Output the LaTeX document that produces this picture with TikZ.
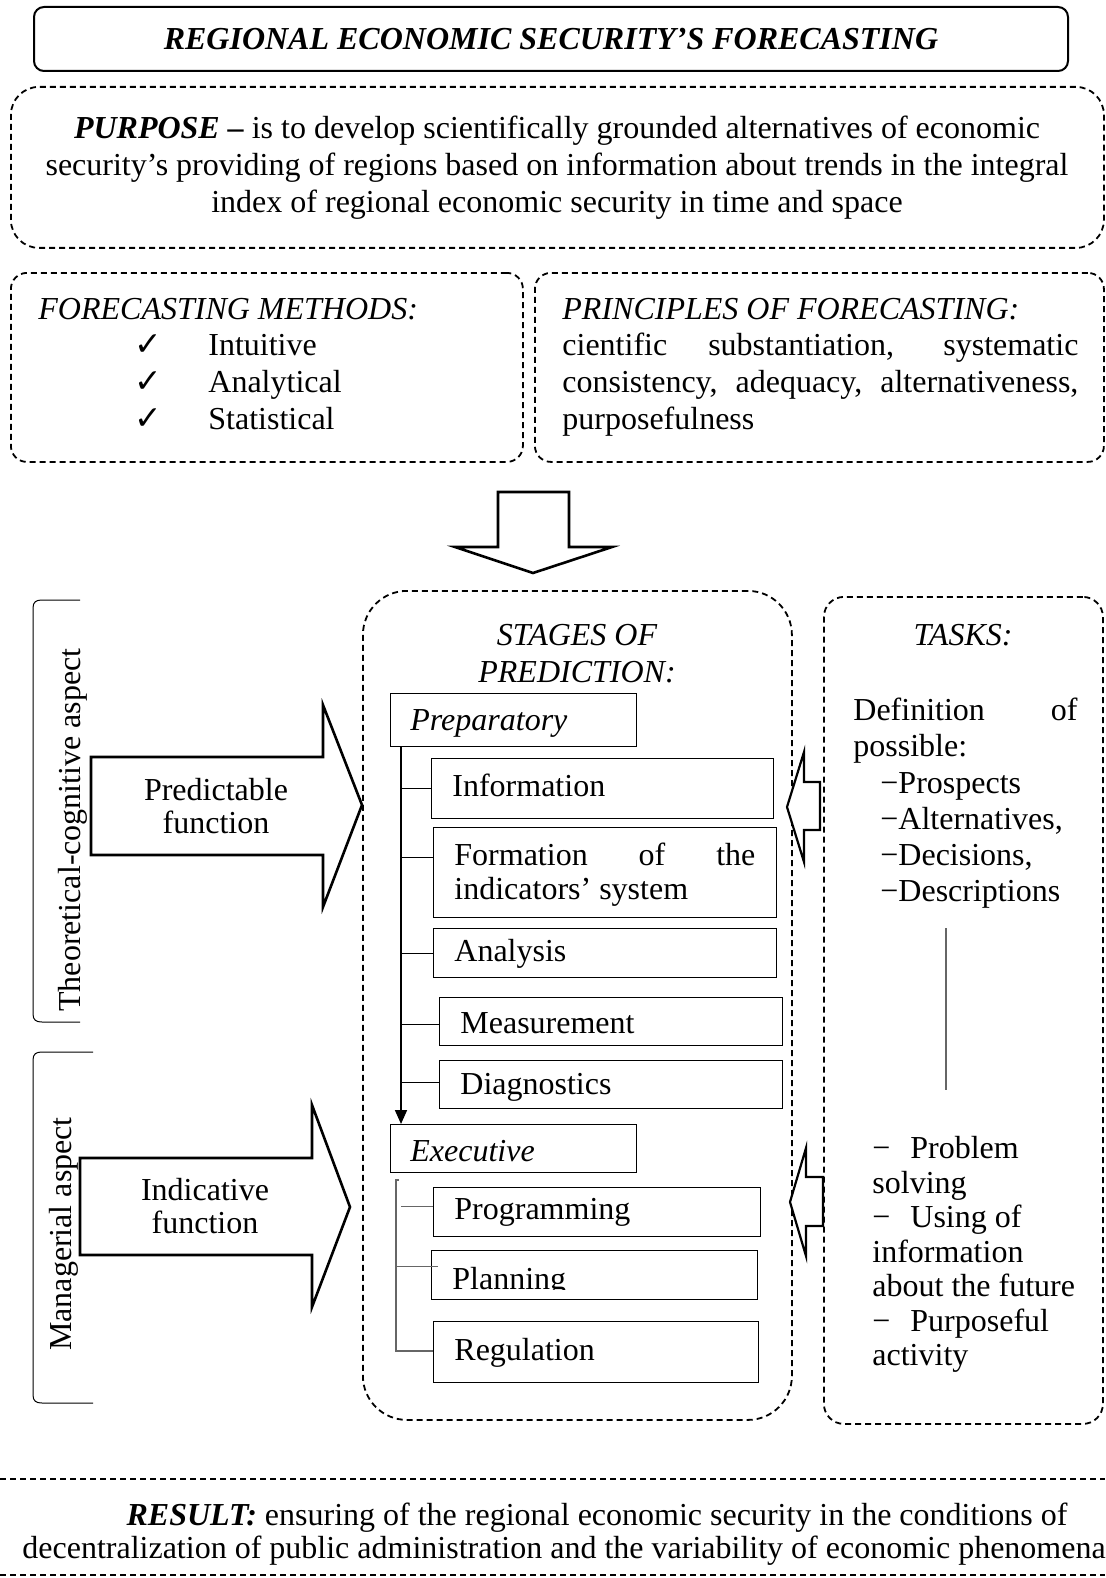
\documentclass[tikz,border=0pt]{standalone}
\usepackage{fontspec}
\setmainfont{Liberation Serif}
\newfontfamily\dvfont{DejaVu Sans}
\usepackage{graphicx}
\usetikzlibrary{arrows.meta}
\begin{document}
\begin{tikzpicture}[x=0.5pt,y=-0.5pt,
  font=\fontsize{16pt}{18.5pt}\selectfont,
  dbox/.style={draw, dash pattern=on 3pt off 2pt, line width=0.9pt, anchor=north west, inner sep=0pt},
  sbox/.style={draw, line width=0.55pt, anchor=north west, inner sep=0pt},
  txt/.style={anchor=base west, inner sep=0pt},
  ctxt/.style={anchor=base, inner sep=0pt},
  bigarrow/.style={draw, line width=1.3pt, line join=miter, fill=white},
  dline/.style={dash pattern=on 3pt off 2pt, line width=0.9pt},
  trunk/.style={line width=0.85pt},
  thin/.style={line width=0.5pt},
  grayline/.style={line width=0.6pt, draw=black!60},
  chk/.style={anchor=base west, inner sep=0pt, font=\dvfont\fontsize{16.5pt}{18pt}\selectfont}
]
\useasboundingbox (0,0) rectangle (1105,1578);

% ---------- title ----------
\node[draw, line width=1pt, rounded corners=5pt, anchor=north west, inner sep=0pt,
      minimum width=517pt, minimum height=32pt] (title) at (33,6)
      {\bfseries\itshape REGIONAL ECONOMIC SECURITY’S FORECASTING};

% ---------- purpose ----------
\node[dbox, rounded corners=14pt, minimum width=546.5pt, minimum height=80.5pt] (purpose) at (10,86) {};
\node[ctxt] (p1) at (557,139) {{\bfseries\itshape PURPOSE –} is to develop scientifically grounded alternatives of economic};
\node[ctxt] (p2) at (557,176) {security’s providing of regions based on information about trends in the integral};
\node[ctxt] (p3) at (557,213) {index of regional economic security in time and space};

% ---------- methods ----------
\node[dbox, rounded corners=8pt, minimum width=256pt, minimum height=94.5pt] (methods) at (10,272) {};
\node[txt] (mh) at (38,319) {\itshape FORECASTING METHODS:};
\node[chk] (c1) at (134,355) {✓};
\node[chk] (c2) at (134,392) {✓};
\node[chk] (c3) at (134,429) {✓};
\node[txt] (m1) at (208,355) {Intuitive};
\node[txt] (m2) at (208,392) {Analytical};
\node[txt] (m3) at (208,429) {Statistical};

% ---------- principles ----------
\node[dbox, rounded corners=8pt, minimum width=284.5pt, minimum height=94.5pt] (principles) at (534,272) {};
\node[txt] (ph) at (562,319) {\itshape PRINCIPLES OF FORECASTING:};
\node[txt] (pr1) at (562,355) {\makebox[258pt][s]{cientific substantiation, systematic}};
\node[txt] (pr2) at (562,392) {\makebox[258pt][s]{consistency, adequacy, alternativeness,}};
\node[txt] (pr3) at (562,429) {purposefulness};

% ---------- down arrow ----------
\draw[bigarrow] (498,492) -- (569,492) -- (569,547) -- (612,547) -- (533,573)
      -- (455,547) -- (498,547) -- cycle;

% ---------- left brackets ----------
\draw[thin] (80,600) -- (42,600) .. controls (36,600) and (33,602) .. (33,608)
      -- (33,1014) .. controls (33,1020) and (36,1022) .. (42,1022) -- (80,1022);
\node[anchor=base, inner sep=0pt, rotate=90] (theo) at (80,830) {Theoretical-cognitive aspect};
\draw[thin] (93,1052) -- (42,1052) .. controls (36,1052) and (33,1054) .. (33,1060)
      -- (33,1395) .. controls (33,1401) and (36,1403) .. (42,1403) -- (93,1403);
\node[anchor=base, inner sep=0pt, rotate=90] (mana) at (71,1234) {Managerial aspect};

% ---------- big left arrows ----------
\draw[bigarrow] (91,757) -- (323,757) -- (323,705) -- (362,805) -- (323,907)
      -- (323,855) -- (91,855) -- cycle;
\node[ctxt] (pf1) at (216,800) {Predictable};
\node[ctxt] (pf2) at (216,833) {function};
\draw[bigarrow] (80,1158) -- (312,1158) -- (312,1105) -- (350,1207) -- (312,1307)
      -- (312,1255) -- (80,1255) -- cycle;
\node[ctxt] (if1) at (205,1200) {Indicative};
\node[ctxt] (if2) at (205,1233) {function};

% ---------- stages ----------
\node[dbox, rounded corners=22pt, minimum width=214.5pt, minimum height=414.5pt] (stages) at (362,590) {};
\node[ctxt] (sh1) at (577,645) {\itshape STAGES OF};
\node[ctxt] (sh2) at (577,682) {\itshape PREDICTION:};

\node[sbox, minimum width=123pt, minimum height=26.5pt] (prep) at (390,693) {};
\node[txt] at (410,730) {\itshape Preparatory};
\node[sbox, minimum width=171pt, minimum height=30pt] (info) at (431,758) {};
\node[txt] at (452,796) {Information};
\node[sbox, minimum width=171.5pt, minimum height=45pt] (form) at (433,827) {};
\node[txt] at (454,865) {\makebox[150.5pt][s]{Formation of the}};
\node[txt] at (454,899) {indicators’ system};
\node[sbox, minimum width=171.5pt, minimum height=24.5pt] (anal) at (433,928) {};
\node[txt] at (454,961) {Analysis};
\node[sbox, minimum width=171.5pt, minimum height=24pt] (meas) at (439,997) {};
\node[txt] at (460,1033) {Measurement};
\node[sbox, minimum width=171.5pt, minimum height=24pt] (diag) at (439,1060) {};
\node[txt] at (460,1094) {Diagnostics};
\node[sbox, minimum width=123pt, minimum height=24pt] (exec) at (390,1124) {};
\node[txt] at (410,1161) {\itshape Executive};
\node[sbox, minimum width=163.5pt, minimum height=24.5pt] (prog) at (433,1187) {};
\node[txt] at (454,1219) {Programming};
\node[sbox, minimum width=163pt, minimum height=24.5pt] (plan) at (431,1250) {};
\begin{scope}
  \clip (431,1250) rectangle (757,1289);
  \node[txt] at (452,1289) {Planning};
\end{scope}
\node[sbox, minimum width=162.5pt, minimum height=30.5pt] (regu) at (433,1321) {};
\node[txt] at (454,1360) {Regulation};

% preparatory tree
\coordinate (trunk) at ([xshift=5.5pt]prep.south west);
\coordinate (fw) at ([yshift=7.5pt]form.west);
\coordinate (mw) at ([yshift=-1.5pt]meas.west);
\coordinate (dw) at ([yshift=1pt]diag.west);
\draw[trunk, -{Triangle[width=6pt,length=7pt]}] (trunk) -- ([xshift=5.5pt]exec.north west);
\draw[thin] (trunk |- info.west) -- (info.west);
\draw[thin] (trunk |- fw) -- (fw);
\draw[thin] (trunk |- anal.west) -- (anal.west);
\draw[thin] (trunk |- mw) -- (mw);
\draw[thin] (trunk |- dw) -- (dw);

% executive tree
\coordinate (et) at (396,1180);
\coordinate (eb) at (396,1351);
\coordinate (pgw) at ([yshift=2.75pt]prog.west);
\coordinate (plw) at ([xshift=3.5pt,yshift=4.25pt]plan.west);
\draw[grayline] (399,1180) -- (et) -- (eb) -- (eb -| regu.west);
\draw[grayline] ([xshift=2.5pt]et |- pgw) -- (pgw);
\draw[grayline] (et |- plw) -- (plw);

% ---------- small right arrows ----------
\draw[bigarrow, line width=1.1pt] (820,782) -- (804,782) -- (804,752) -- (787,807)
      -- (804,862) -- (804,830) -- (820,830) -- cycle;
\draw[bigarrow, line width=1.1pt] (823,1177) -- (806,1177) -- (806,1148) -- (790,1202)
      -- (806,1256) -- (806,1226) -- (823,1226) -- cycle;

% ---------- tasks ----------
\node[dbox, rounded corners=10pt, minimum width=139.5pt, minimum height=413.5pt] (tasks) at (823,596) {};
\node[ctxt] (th) at (963,645) {\itshape TASKS:};
\node[txt] at (853,720) {\makebox[112pt][s]{Definition of}};
\node[txt] at (853,756) {possible:};
\node[txt] at (880,793) {−Prospects};
\node[txt] at (880,829) {−Alternatives,};
\node[txt] at (880,865) {−Decisions,};
\node[txt] at (880,901) {−Descriptions};
\coordinate (vt) at (946,928);
\coordinate (vb) at (946,1090);
\draw[grayline] (vt) -- (vb);
\node[txt] at (872,1158) {\makebox[19pt][l]{−}Problem};
\node[txt] at (872,1193) {solving};
\node[txt] at (872,1227) {\makebox[19pt][l]{−}Using of};
\node[txt] at (872,1262) {information};
\node[txt] at (872,1296) {about the future};
\node[txt] at (872,1331) {\makebox[19pt][l]{−}Purposeful};
\node[txt] at (872,1365) {activity};

% ---------- result ----------
\coordinate (ra) at (0,1479);
\coordinate (rb) at (1105,1479);
\coordinate (rc) at (0,1575);
\coordinate (rd) at (1105,1575);
\draw[dline] (ra) -- (rb);
\draw[dline] (rc) -- (rd);
\node[ctxt] (res1) at (597,1525) {{\bfseries\itshape RESULT:} ensuring of the regional economic security in the conditions of};
\node[txt] (res2) at (22,1558) {decentralization of public administration and the variability of economic phenomena};
\end{tikzpicture}
\end{document}
